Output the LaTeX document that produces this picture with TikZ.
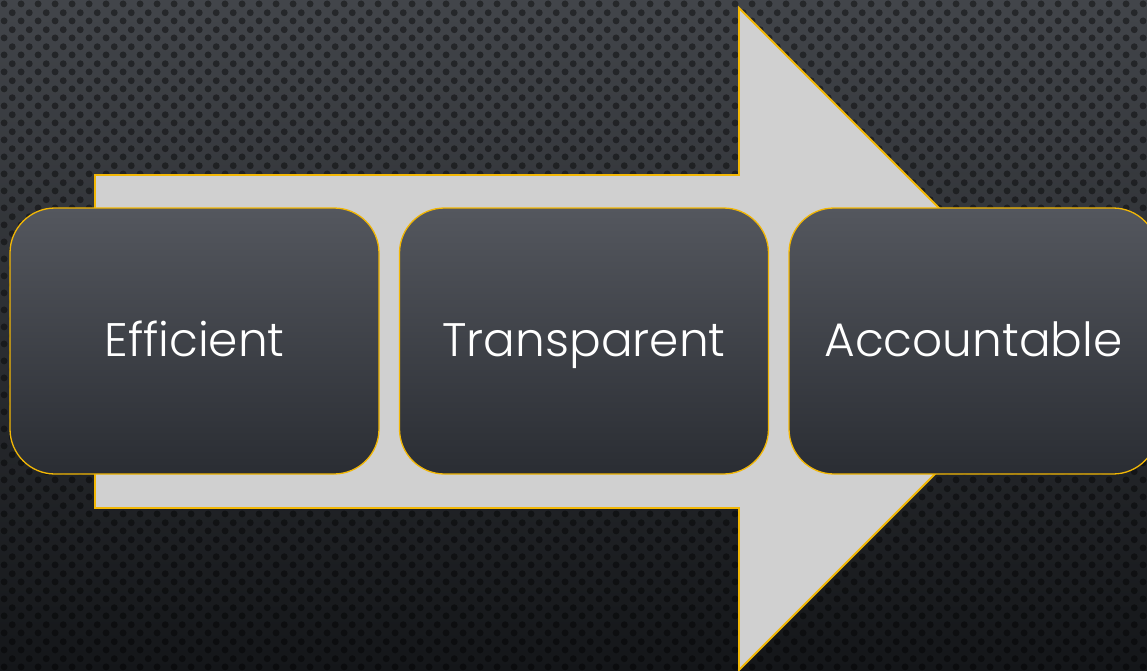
\documentclass[tikz,border=0pt]{standalone}
\usepackage{fontspec}
\setmainfont{Poppins Light}
\usetikzlibrary{patterns}
\definecolor{gold}{HTML}{F2B705}
\definecolor{arrowfill}{HTML}{D0D0D0}
\definecolor{bgtop}{HTML}{42454A}
\definecolor{bgbot}{HTML}{141619}
\definecolor{boxtop}{HTML}{54575E}
\definecolor{boxbot}{HTML}{2A2D33}
\pgfdeclarepatternformonly{hexdots}{\pgfqpoint{0pt}{0pt}}{\pgfqpoint{16.67pt}{16.67pt}}{\pgfqpoint{16.67pt}{16.67pt}}{%
  \pgfpathcircle{\pgfqpoint{4.17pt}{4.17pt}}{3.5pt}%
  \pgfpathcircle{\pgfqpoint{12.5pt}{12.5pt}}{3.5pt}%
  \pgfusepath{fill}}
\tikzset{
  stagebox/.style={draw=gold, line width=1.3pt, rounded corners=45pt,
    top color=boxtop, bottom color=boxbot, minimum width=369pt,
    minimum height=266pt, inner sep=0pt, text=white,
    text height=38pt, text depth=8pt,
    font=\fontsize{47}{58}\selectfont},
  bigarrow/.style={draw=gold, line width=1.8pt, fill=arrowfill, line join=miter}
}
\begin{document}
\begin{tikzpicture}[x=1pt,y=-1pt]
\useasboundingbox (0,0) rectangle (1147,671);
\clip (0,0) rectangle (1147,671);
\shade[top color=bgtop, bottom color=bgbot] (0,0) rectangle (1147,671);
\fill[pattern=hexdots, pattern color=black, fill opacity=0.42] (0,0) rectangle (1147,671);
\draw[bigarrow] (95,175) -- (739,175) -- (739,8) -- (1070,339) -- (739,670) -- (739,508) -- (95,508) -- cycle;
\node[stagebox] (eff) at (194.5,341) {Efficient};
\node[stagebox] (tra) at (584,341) {Transparent};
\node[stagebox] (acc) at (973.5,341) {Accountable};
\end{tikzpicture}
\end{document}
